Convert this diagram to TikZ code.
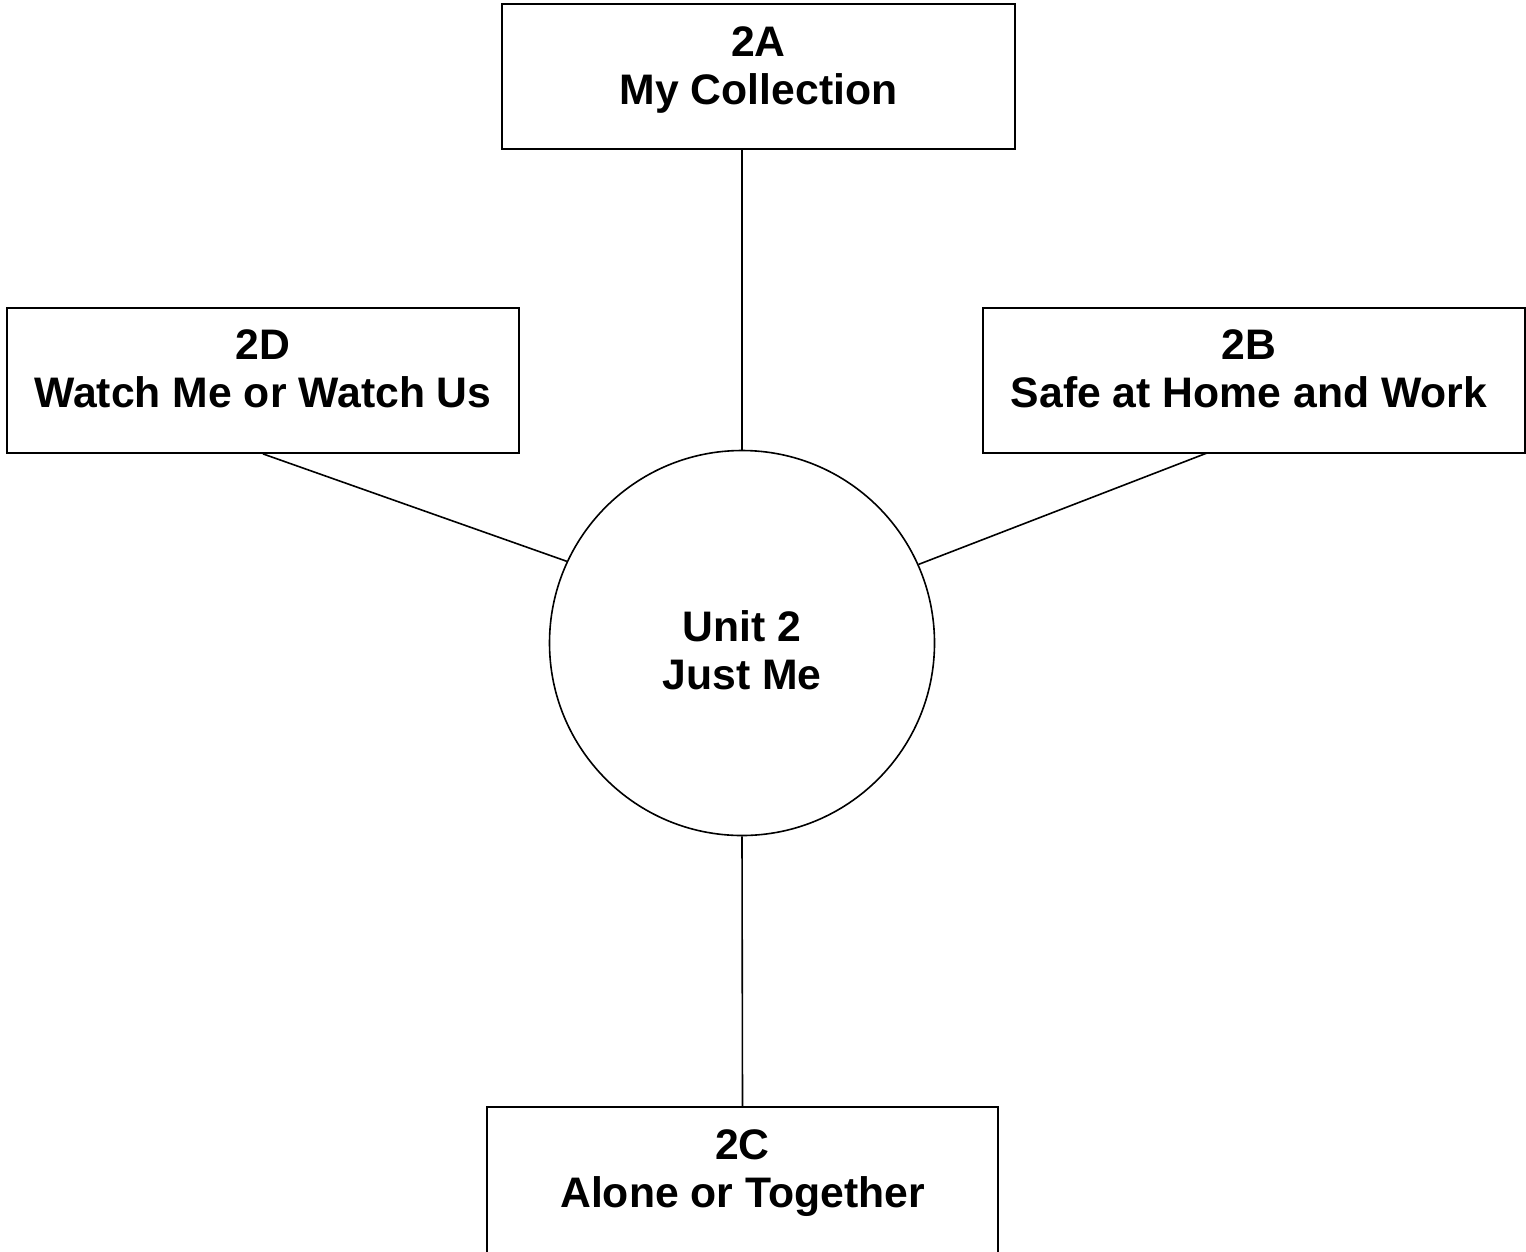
\documentclass[tikz,border=0pt]{standalone}
\usepackage{fontspec}
\setmainfont{Liberation Sans}
\begin{document}
\begin{tikzpicture}[x=1pt,y=-1pt,
  txt/.style={align=center,inner sep=0pt,font=\bfseries\fontsize{42.7}{48}\selectfont},
  box/.style={draw,line width=1.8pt,rectangle,inner sep=0pt},
  hub/.style={draw,line width=1.6pt,circle,inner sep=0pt,minimum size=385pt},
  link/.style={line width=1.6pt}]
\useasboundingbox (0,0) rectangle (1526,1251);
\node[box,minimum width=513pt,minimum height=145pt,
  label={[txt,yshift=6.5pt]center:2A\\My Collection}] (A) at (758.5,76.5) {};
\node[box,minimum width=512pt,minimum height=145pt,
  label={[txt,yshift=11.5pt]center:2D\\Watch Me or Watch Us}] (D) at (263,380.5) {};
\node[box,minimum width=542pt,minimum height=145pt,
  label={[txt,yshift=11.5pt,xshift=-5pt]center:2B\\Safe at Home and Work}] (B) at (1254,380.5) {};
\node[box,minimum width=511pt,minimum height=147pt,
  label={[txt,yshift=7.5pt]center:2C\\Alone or Together}] (C) at (742.5,1180.5) {};
\node[hub,label={[txt,yshift=-7.5pt]center:Unit 2\\Just Me}] (U) at (742,643) {};
\coordinate (b1) at (1207,453);
\coordinate (a1) at (742,149);
\draw[link] (a1) -- (U.north);
\draw[link] (C.north) -- (U.south);
\draw[link] (D.south) -- (U.155.6);
\draw[link] (b1) -- (U.24.4);
\end{tikzpicture}
\end{document}
